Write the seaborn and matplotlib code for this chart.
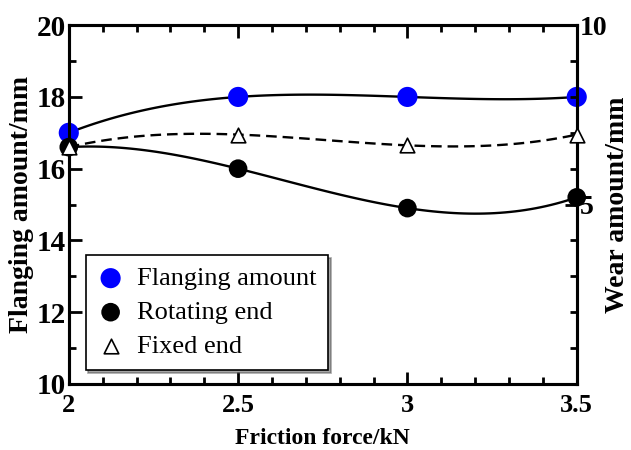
import numpy as np
import pandas as pd
import matplotlib
matplotlib.use('Agg')
import matplotlib.pyplot as plt
from matplotlib.ticker import MultipleLocator
import seaborn as sns

# donnees
friction = [2.0, 2.5, 3.0, 3.5]
flanging = [17.0, 18.0, 18.0, 18.0]
rotating_end = [6.6, 6.0, 4.9, 5.2]
fixed_end = [6.6, 6.95, 6.65, 6.95]

df = pd.DataFrame({'friction': friction, 'flanging': flanging,
                   'rotating': rotating_end, 'fixed': fixed_end})

sns.set_style('ticks')
plt.rcParams['font.family'] = ['Liberation Serif', 'DejaVu Serif']
plt.rcParams['axes.linewidth'] = 2.2
plt.rcParams['axes.edgecolor'] = 'black'
plt.rcParams['axes.labelcolor'] = 'black'
plt.rcParams['text.color'] = 'black'
plt.rcParams['xtick.color'] = 'black'
plt.rcParams['ytick.color'] = 'black'
plt.rcParams['xtick.direction'] = 'in'
plt.rcParams['ytick.direction'] = 'in'

fig = plt.figure(figsize=(6.31, 4.5), dpi=100)
ax = fig.add_axes([0.109, 0.147, 0.805, 0.797])
ax2 = ax.twinx()

# courbes lissees (polynome d'ordre 3 par seaborn)
sns.regplot(data=df, x='friction', y='flanging', order=3, ci=None, scatter=False,
            ax=ax, line_kws={'color': 'black', 'lw': 1.7})
sns.regplot(data=df, x='friction', y='rotating', order=3, ci=None, scatter=False,
            ax=ax2, line_kws={'color': 'black', 'lw': 1.7})
sns.regplot(data=df, x='friction', y='fixed', order=3, ci=None, scatter=False,
            ax=ax2, line_kws={'color': 'black', 'lw': 1.7, 'ls': (0, (4.5, 2.5))})

sns.scatterplot(data=df, x='friction', y='flanging', ax=ax, color='#0000ff', s=210,
                edgecolor='none', label='Flanging amount', zorder=5, clip_on=False)
sns.scatterplot(data=df, x='friction', y='rotating', ax=ax2, color='black', s=180,
                edgecolor='none', label='Rotating end', zorder=5, clip_on=False)
sns.scatterplot(data=df, x='friction', y='fixed', ax=ax2, color='white', marker='^', s=110,
                edgecolor='black', linewidth=1.2, label='Fixed end', zorder=6, clip_on=False)

ax.set_xlim(2, 3.5)
ax.set_ylim(10, 20)
ax2.set_ylim(0, 10)

ax.xaxis.set_major_locator(MultipleLocator(0.5))
ax.xaxis.set_minor_locator(MultipleLocator(0.1))
ax.yaxis.set_major_locator(MultipleLocator(2))
ax.yaxis.set_minor_locator(MultipleLocator(1))
ax2.yaxis.set_major_locator(MultipleLocator(5))
ax2.yaxis.set_minor_locator(MultipleLocator(1))
ax.set_xticks([2, 2.5, 3, 3.5], ['2', '2.5', '3', '3.5'])
ax2.set_yticks([5, 10], ['5', '10'])

ax.tick_params(axis='x', which='major', length=9, width=2, labelsize=19, top=True, pad=7)
ax.tick_params(axis='y', which='major', length=9, width=2, labelsize=21, right=False, pad=2)
ax.tick_params(axis='both', which='minor', length=5, width=2, top=True, right=False)
ax2.tick_params(axis='y', which='major', length=9, width=2, labelsize=20, pad=2)
ax2.tick_params(axis='y', which='minor', length=5, width=2)
for a in (ax, ax2):
    for lab in a.get_xticklabels() + a.get_yticklabels():
        lab.set_fontweight('bold')

ax.set_xlabel('Friction force/kN', fontsize=17, fontweight='bold', labelpad=8)
ax.set_ylabel('Flanging amount/mm', fontsize=20, fontweight='bold')
ax.yaxis.set_label_coords(-0.068, 0.5)
ax2.set_ylabel('Wear amount/mm', fontsize=20, fontweight='bold', rotation=90)
ax2.yaxis.set_label_coords(1.056, 0.5)

h1, l1 = ax.get_legend_handles_labels()
h2, l2 = ax2.get_legend_handles_labels()
if ax.get_legend():
    ax.get_legend().remove()
leg = ax2.legend(h1 + h2, l1 + l2, loc='upper left', bbox_to_anchor=(0.033, 0.36),
                 fontsize=19, frameon=True, fancybox=False, shadow=True,
                 edgecolor='black', framealpha=1, borderpad=0.45, labelspacing=0.4,
                 handlelength=1.0, handletextpad=0.5, borderaxespad=0)
leg.get_frame().set_linewidth(1.2)

fig.savefig('out.png', dpi=100)
